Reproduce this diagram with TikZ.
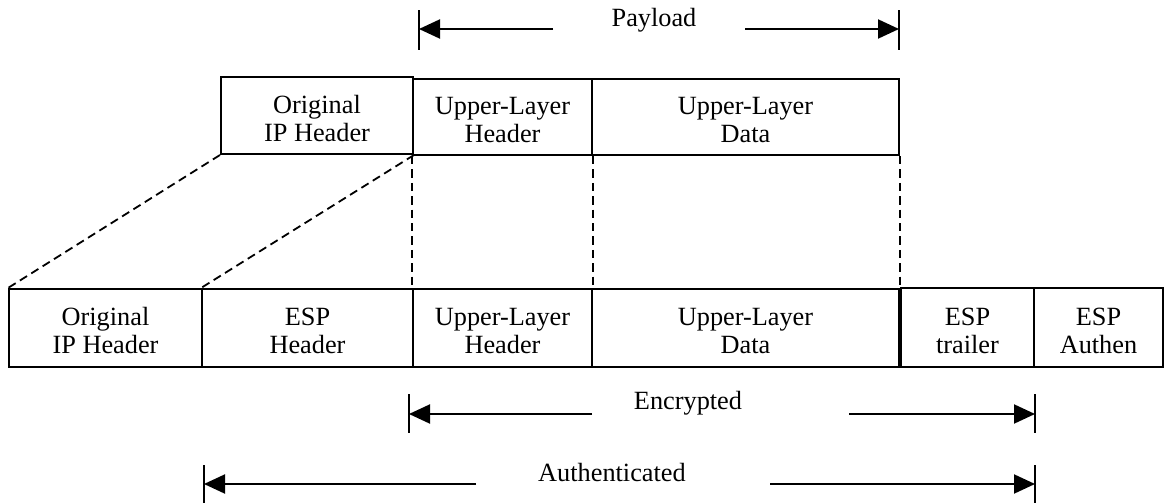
\documentclass[tikz,border=0pt]{standalone}
\usepackage{fontspec}
\setmainfont{Liberation Serif}
\usetikzlibrary{arrows.meta,fit}
\begin{document}
\begin{tikzpicture}[x=0.5pt,y=-0.5pt,
  txt/.style={font=\fontsize{13.15}{14}\selectfont},
  cell/.style={draw, line width=1pt, inner sep=0pt},
  celltext/.style={inner sep=0pt, align=center, txt, yshift=-1.5pt},
  guide/.style={line width=0.9pt, dash pattern=on 4.2pt off 2.5pt},
  span/.style={line width=1pt, -{Triangle[length=10.5pt,width=9.5pt]}},
  bar/.style={line width=1pt},
  lbl/.style={inner sep=0pt, txt}]
\useasboundingbox (0,0) rectangle (1164,503);

% original packet
\node[cell, fit={(221,77)(413,154)}] (topip) {};
\node[cell, fit={(413,79)(592,155)}] (topulh) {};
\node[cell, fit={(592,79)(899,155)}] (topuld) {};
\node[celltext] (topipT) at (topip.center) {Original\\IP Header};
\node[celltext] (topulhT) at (topulh.center) {Upper-Layer\\Header};
\node[celltext] (topuldT) at (topuld.center) {Upper-Layer\\Data};

% ESP packet
\node[cell, fit={(9,289)(202,367)}] (ip) {};
\node[cell, fit={(202,289)(413,367)}] (esph) {};
\node[cell, fit={(413,289)(592,367)}] (ulh) {};
\node[cell, fit={(592,289)(899,367)}] (uld) {};
\node[cell, fit={(901,288)(1034,367)}] (espt) {};
\node[cell, fit={(1034,288)(1163,367)}] (espa) {};
\node[celltext] (ipT) at (ip.center) {Original\\IP Header};
\node[celltext] (esphT) at (esph.center) {ESP\\Header};
\node[celltext] (ulhT) at (ulh.center) {Upper-Layer\\Header};
\node[celltext] (uldT) at (uld.center) {Upper-Layer\\Data};
\node[celltext] (esptT) at (espt.center) {ESP\\trailer};
\node[celltext] (espaT) at (espa.center) {ESP\\Authen};

% dashed guides between the two packets
\draw[guide] (topip.south west) -- (ip.north west);
\draw[guide] (topip.south east) -- (esph.north west);
\draw[guide] (topulh.south west) -- (ulh.north west);
\draw[guide] (topulh.south east) -- (ulh.north east);
\draw[guide] (topuld.south east) -- (uld.north east);

% Payload span
\node[lbl] (pay) at (654,20) {Payload};
\coordinate (payL) at (419,29);
\coordinate (payR) at (899,29);
\coordinate (payLs) at (553,29);
\coordinate (payRs) at (745,29);
\draw[bar] (419,10) -- (419,50);
\draw[bar] (899,10) -- (899,50);
\draw[span] (payLs) -- (payL);
\draw[span] (payRs) -- (payR);

% Encrypted span
\node[lbl] (enc) at (688,403) {Encrypted};
\coordinate (encL) at (409,414);
\coordinate (encR) at (1035,414);
\coordinate (encLs) at (592,414);
\coordinate (encRs) at (849,414);
\draw[bar] (409,394) -- (409,433);
\draw[bar] (1035,394) -- (1035,433);
\draw[span] (encLs) -- (encL);
\draw[span] (encRs) -- (encR);

% Authenticated span
\node[lbl] (auth) at (612,473) {Authenticated};
\coordinate (autL) at (204,484);
\coordinate (autR) at (1035,484);
\coordinate (autLs) at (476,484);
\coordinate (autRs) at (770,484);
\draw[bar] (204,465) -- (204,503);
\draw[bar] (1035,465) -- (1035,503);
\draw[span] (autLs) -- (autL);
\draw[span] (autRs) -- (autR);
\end{tikzpicture}
\end{document}
